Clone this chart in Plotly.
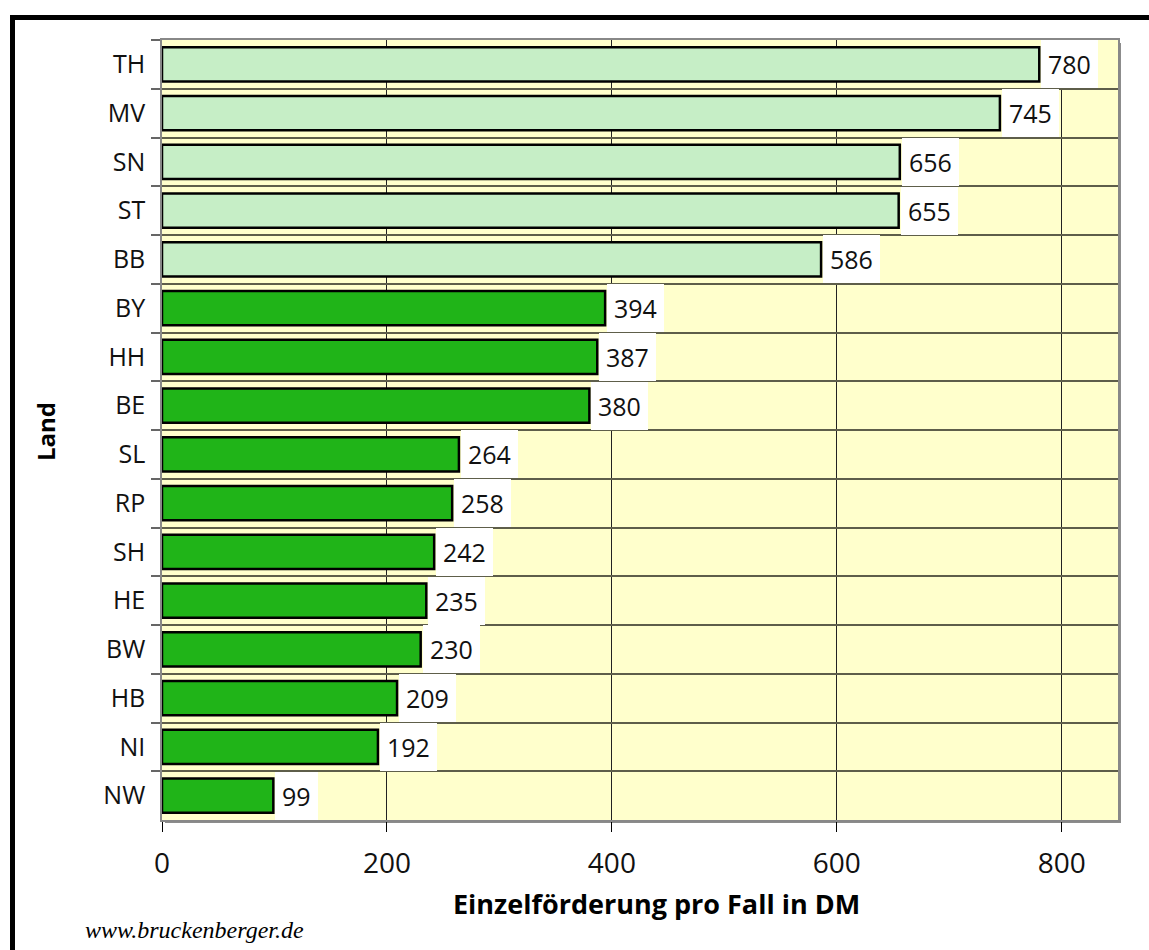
import plotly.graph_objects as go

# Bundesländer, top to bottom
laender = ["TH", "MV", "SN", "ST", "BB", "BY", "HH", "BE", "SL", "RP",
           "SH", "HE", "BW", "HB", "NI", "NW"]
werte = [780, 745, 656, 655, 586, 394, 387, 380, 264, 258,
         242, 235, 230, 209, 192, 99]
neue_laender = {"TH", "MV", "SN", "ST", "BB"}

HELL = "#C6EEC6"
DUNKEL = "#20B418"
farben = [HELL if l in neue_laender else DUNKEL for l in laender]

W, H = 1149, 950
L, R, T, B = 162, 31, 40, 130
pw, ph = W - L - R, H - T - B


def px_x(px):
    return (px - L) / pw


def px_y(py):
    return (T + ph - py) / ph


fig = go.Figure(go.Bar(
    x=werte, y=laender, orientation="h",
    marker=dict(color=farben, line=dict(color="black", width=2.5)),
    width=0.7, hoverinfo="x+y",
))

# value labels on white boxes next to each bar
for l, v in zip(laender, werte):
    fig.add_annotation(
        x=v, y=l, xref="x", yref="y", text=str(v), showarrow=False,
        xanchor="left", yanchor="middle", xshift=2,
        font=dict(family="Open Sans", size=25, color="#111111"),
        bgcolor="white", bordercolor="white", borderwidth=1, borderpad=6,
    )

# shadow of the plot area (right and bottom)
sx, sy = 3 / pw, 3 / ph
fig.add_shape(type="rect", xref="paper", yref="paper", layer="below",
              x0=1, x1=1 + sx, y0=-sy, y1=1 - sy,
              fillcolor="#8C8C8C", line=dict(width=0))
fig.add_shape(type="rect", xref="paper", yref="paper", layer="below",
              x0=sx, x1=1 + sx, y0=-sy, y1=0,
              fillcolor="#8C8C8C", line=dict(width=0))

# outer frame
fig.add_shape(type="rect", xref="paper", yref="paper",
              x0=px_x(12.5), x1=px_x(1170), y0=px_y(975), y1=px_y(17.5),
              line=dict(color="black", width=5), fillcolor="rgba(0,0,0,0)")

# axis titles and credit line
fig.add_annotation(x=px_x(656), y=px_y(903), xref="paper", yref="paper",
                   xanchor="center", yanchor="middle",
                   text="<b>Einzelförderung pro Fall in DM</b>", showarrow=False,
                   font=dict(family="Open Sans", size=27, color="black"))
fig.add_annotation(x=px_x(45), y=px_y(432), xref="paper", yref="paper",
                   xanchor="center", yanchor="middle",
                   text="<b>Land</b>", textangle=-90, showarrow=False,
                   font=dict(family="Open Sans", size=24, color="black"))
fig.add_annotation(x=px_x(194), y=px_y(930), xref="paper", yref="paper",
                   xanchor="center", yanchor="middle",
                   text="<i>www.bruckenberger.de</i>", showarrow=False,
                   font=dict(family="Liberation Serif", size=24, color="black"))

fig.update_layout(
    width=W, height=H,
    margin=dict(l=L, r=R, t=T, b=B),
    paper_bgcolor="white", plot_bgcolor="#FFFFCC",
    showlegend=False, bargap=0.3,
    xaxis=dict(range=[0, 850], tickvals=[0, 200, 400, 600, 800],
               showgrid=True, gridcolor="#222222", gridwidth=1,
               zeroline=False, ticks="outside", ticklen=10, tickcolor="black",
               ticklabelstandoff=8,
               tickfont=dict(family="Open Sans", size=28, color="#111111"),
               showline=True, linecolor="#888888", linewidth=1.5, mirror=True),
    yaxis=dict(autorange="reversed", type="category", tickson="boundaries",
               showgrid=True, gridcolor="#5E5E4A", gridwidth=1.5,
               ticks="outside", ticklen=9, tickcolor="#666666", tickwidth=1.5,
               ticklabelstandoff=10,
               tickfont=dict(family="Open Sans", size=25, color="#111111"),
               showline=True, linecolor="#888888", linewidth=1.5, mirror=True),
)

fig.write_html("out.html")
